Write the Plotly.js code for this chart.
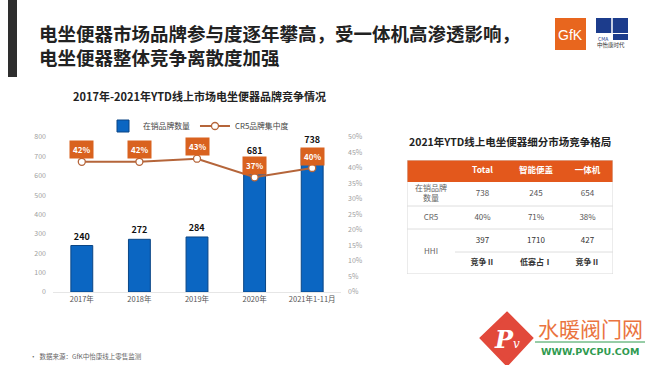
<!DOCTYPE html>
<html><head><meta charset="utf-8">
<script src="https://cdn.plot.ly/plotly-3.0.1.min.js"></script>
<style>html,body{margin:0;padding:0;background:#fff}#chart{width:650px;height:365px}</style>
</head><body><div id="chart"></div>
<script>
// ---- data ----
const categories = ['2017年','2018年','2019年','2020年','2021年1-11月'];
const brandCounts = [240, 272, 284, 681, 738];
const cr5Share = [0.42, 0.42, 0.43, 0.37, 0.40];
const seriesNames = ['在销品牌数量', 'CR5品牌集中度'];

const tableHeader = ['', 'Total', '智能便盖', '一体机'];
const tableRowLabels = ['在销品牌<br>数量', 'CR5', 'HHI'];
const tableTotal = ['738', '40%', '397', '竞争Ⅱ'];
const tableSmart = ['245', '71%', '1710', '低寡占Ⅰ'];
const tableAllInOne = ['654', '38%', '427', '竞争Ⅱ'];

const slideTitle = '电坐便器市场品牌参与度逐年攀高，受一体机高渗透影响，<br>电坐便器整体竞争离散度加强';
const chartTitle = '2017年-2021年YTD线上市场电坐便器品牌竞争情况';
const tableTitle = '2021年YTD线上电坐便器细分市场竞争格局';
const sourceNote = '•  数据来源：GfK中怡康线上零售监测';

// ---- helpers (pixel -> paper) ----
const W = 650, H = 365;
const px = x => x / W;
const py = y => 1 - y / H;
const FONT = '"Noto Sans CJK SC", "Noto Sans", sans-serif';
const BLUE = '#0b66c2', ORANGE = '#d9621f', LINE = '#b5653a';

// ---- table layout (styling, in table-local pixel units) ----
const colW = [48, 55, 52, 51];
const rowH = [22, 24, 23, 23, 22];
const TW = colW.reduce((a, b) => a + b, 0), TH = rowH.reduce((a, b) => a + b, 0);
const colEdge = colW.map((w, i) => colW.slice(0, i).reduce((a, b) => a + b, 0));
const rowEdge = rowH.map((h, i) => rowH.slice(0, i).reduce((a, b) => a + b, 0));
const colC = colW.map((w, i) => colEdge[i] + w / 2);
const rowC = rowH.map((h, i) => rowEdge[i] + h / 2);

const cellX = [], cellY = [], cellT = [], cellCol = [], cellSize = [];
function addCell(x, y, t, color, size) { cellX.push(x); cellY.push(y); cellT.push(t); cellCol.push(color); cellSize.push(size); }
tableHeader.forEach((t, c) => addCell(colC[c], rowC[0], t ? '<b>' + t + '</b>' : '', '#fff', 8.5));
tableRowLabels.forEach((t, r) => {
  const y = r < 2 ? rowC[r + 1] : (rowEdge[3] + TH) / 2; // HHI spans the last two rows
  addCell(colC[0], y, t, '#666', 8);
});
[tableTotal, tableSmart, tableAllInOne].forEach((col, c) => col.forEach((t, r) => {
  if (r === 3) addCell(colC[c + 1], rowC[r + 1], '<b>' + t + '</b>', '#333', 8);
  else addCell(colC[c + 1], rowC[r + 1], t, r === 2 ? '#333' : '#555', 8);
}));

const traces = [
  {
    type: 'bar', name: seriesNames[0], x: categories, y: brandCounts,
    marker: {color: BLUE, line: {color: '#0a4585', width: 1}},
    text: brandCounts.map(v => '<b>' + v + '</b>'), textposition: 'outside',
    textfont: {family: FONT, size: 9, color: '#111'}, cliponaxis: false,
    xaxis: 'x', yaxis: 'y', hoverinfo: 'none'
  },
  {
    type: 'scatter', mode: 'lines+markers', name: seriesNames[1], x: categories, y: cr5Share,
    line: {color: LINE, width: 2},
    marker: {color: '#fff', size: 7, line: {color: LINE, width: 1.3}},
    xaxis: 'x', yaxis: 'y2', hoverinfo: 'none'
  },
  {
    type: 'scatter', mode: 'text', x: cellX, y: cellY, text: cellT,
    textfont: {family: FONT, size: cellSize, color: cellCol}, textposition: 'middle center',
    xaxis: 'x3', yaxis: 'y3', showlegend: false, hoverinfo: 'none', cliponaxis: false
  }
];

const annotations = [
  {text: '<b>' + slideTitle + '</b>', xref: 'paper', yref: 'paper', x: px(37), y: py(45),
   xanchor: 'left', yanchor: 'middle', showarrow: false, align: 'left',
   font: {family: FONT, size: 18.5, color: '#222'}},
  {text: '<b>' + chartTitle + '</b>', xref: 'paper', yref: 'paper', x: px(199), y: py(96),
   xanchor: 'center', yanchor: 'middle', showarrow: false,
   font: {family: FONT, size: 11, color: '#222'}},
  {text: '<b>' + tableTitle + '</b>', xref: 'paper', yref: 'paper', x: px(510), y: py(141),
   xanchor: 'center', yanchor: 'middle', showarrow: false,
   font: {family: FONT, size: 10.5, color: '#222'}},
  {text: sourceNote, xref: 'paper', yref: 'paper', x: px(28), y: py(356),
   xanchor: 'left', yanchor: 'middle', showarrow: false,
   font: {family: FONT, size: 6.5, color: '#666'}},
  {text: 'GfK', xref: 'paper', yref: 'paper', x: px(570), y: py(35),
   xanchor: 'center', yanchor: 'middle', showarrow: false,
   font: {family: '"Liberation Sans", sans-serif', size: 14, color: '#fff'}},
  {text: 'CMA', xref: 'paper', yref: 'paper', x: px(603), y: py(38),
   xanchor: 'center', yanchor: 'middle', showarrow: false,
   font: {family: FONT, size: 5, color: '#1c3c8c'}},
  {text: '中怡康时代', xref: 'paper', yref: 'paper', x: px(611), y: py(45),
   xanchor: 'center', yanchor: 'middle', showarrow: false,
   font: {family: FONT, size: 5.5, color: '#333'}},
  {text: '<b><i>P</i></b><i><span style="font-size:12px">v</span></i>', xref: 'paper', yref: 'paper',
   x: px(507), y: py(339), xanchor: 'center', yanchor: 'middle', showarrow: false,
   font: {family: '"DejaVu Serif", serif', size: 24, color: '#fff'}},
  {text: '水暖阀门网', xref: 'paper', yref: 'paper', x: px(590), y: py(328),
   xanchor: 'center', yanchor: 'middle', showarrow: false,
   font: {family: FONT, size: 21, color: '#ea7440'}},
  {text: '<b>WWW.PVCPU.COM</b>', xref: 'paper', yref: 'paper', x: px(590), y: py(351),
   xanchor: 'center', yanchor: 'middle', showarrow: false,
   font: {family: '"DejaVu Sans", sans-serif', size: 9.5, color: '#2f9a4f'}}
];
// CR5 labels in orange boxes
cr5Share.forEach((v, i) => annotations.push({
  text: '<b>' + Math.round(v * 100) + '%</b>', xref: 'x', yref: 'y2', x: categories[i], y: v,
  yshift: 12, showarrow: false, bgcolor: ORANGE, borderpad: 3,
  font: {family: FONT, size: 8, color: '#fff'}
}));

const shapes = [
  {type: 'rect', xref: 'paper', yref: 'paper', x0: px(8), x1: px(17), y0: py(0), y1: py(77),
   fillcolor: '#2e2e2e', line: {width: 0}},
  {type: 'rect', xref: 'paper', yref: 'paper', x0: px(555), x1: px(586), y0: py(18), y1: py(50),
   fillcolor: '#e8661e', line: {width: 0}},
  {type: 'rect', xref: 'paper', yref: 'paper', x0: px(596), x1: px(628), y0: py(18), y1: py(33),
   fillcolor: '#1c3c8c', line: {width: 0}},
  {type: 'line', xref: 'paper', yref: 'paper', x0: px(612), x1: px(612), y0: py(18), y1: py(40),
   line: {color: '#fff', width: 1.5}},
  {type: 'rect', xref: 'paper', yref: 'paper', x0: px(613), x1: px(628), y0: py(34), y1: py(40),
   fillcolor: '#1c3c8c', line: {width: 0}},
  // table
  {type: 'rect', xref: 'x3', yref: 'y3', x0: 0, x1: TW, y0: 0, y1: rowH[0], layer: 'below',
   fillcolor: '#e3581c', line: {width: 0}},
  {type: 'rect', xref: 'x3', yref: 'y3', x0: 0, x1: TW, y0: 0, y1: TH, layer: 'below',
   line: {color: '#d8d8d8', width: 1}},
  {type: 'line', xref: 'x3', yref: 'y3', x0: 0, x1: TW, y0: rowEdge[2], y1: rowEdge[2], layer: 'below',
   line: {color: '#dedede', width: 1}},
  {type: 'line', xref: 'x3', yref: 'y3', x0: 0, x1: TW, y0: rowEdge[3], y1: rowEdge[3], layer: 'below',
   line: {color: '#dedede', width: 1}},
  {type: 'line', xref: 'x3', yref: 'y3', x0: colEdge[1], x1: TW, y0: rowEdge[4], y1: rowEdge[4], layer: 'below',
   line: {color: '#dedede', width: 1}},
  // watermark
  {type: 'path', xref: 'paper', yref: 'paper',
   path: `M ${px(507)} ${py(314)} L ${px(531)} ${py(338)} L ${px(507)} ${py(364)} L ${px(482)} ${py(338)} Z`,
   fillcolor: '#e2493b', line: {color: '#e2493b', width: 4}, layer: 'below'},
  {type: 'line', xref: 'paper', yref: 'paper', x0: px(535), x1: px(645), y0: py(342), y1: py(342),
   line: {color: '#2f9a4f', width: 1}}
];

const layout = {
  width: W, height: H, margin: {l: 0, r: 0, t: 0, b: 0},
  paper_bgcolor: '#fff', plot_bgcolor: 'rgba(0,0,0,0)',
  font: {family: FONT},
  showlegend: true,
  legend: {orientation: 'h', x: px(103), y: py(126), xanchor: 'left', yanchor: 'middle',
    font: {family: FONT, size: 7.8, color: '#444'}, itemwidth: 30, tracegroupgap: 0,
    bgcolor: 'rgba(0,0,0,0)'},
  bargap: 0.62,
  xaxis: {domain: [px(53), px(341)], anchor: 'y', showgrid: false, zeroline: false,
    showline: true, linecolor: '#e6e6e6', ticks: '',
    tickfont: {family: FONT, size: 7.5, color: '#555'}},
  yaxis: {domain: [py(292), py(137)], range: [0, 800], dtick: 100, showgrid: false,
    zeroline: false, showline: false, ticks: '', ticklabelstandoff: 6,
    tickfont: {family: FONT, size: 7, color: '#a0a0a0'}},
  yaxis2: {overlaying: 'y', side: 'right', range: [0, 0.5], dtick: 0.05, tickformat: '.0%',
    showgrid: false, zeroline: false, showline: false, ticks: '', ticklabelstandoff: 6,
    tickfont: {family: FONT, size: 7, color: '#a0a0a0'}},
  xaxis3: {domain: [px(407), px(407 + TW)], range: [0, TW], anchor: 'y3', visible: false, fixedrange: true},
  yaxis3: {domain: [py(160 + TH), py(160)], range: [TH, 0], anchor: 'x3', visible: false, fixedrange: true},
  annotations: annotations,
  shapes: shapes
};

Plotly.newPlot('chart', traces, layout, {displayModeBar: false, staticPlot: true});
</script>
</body></html>
